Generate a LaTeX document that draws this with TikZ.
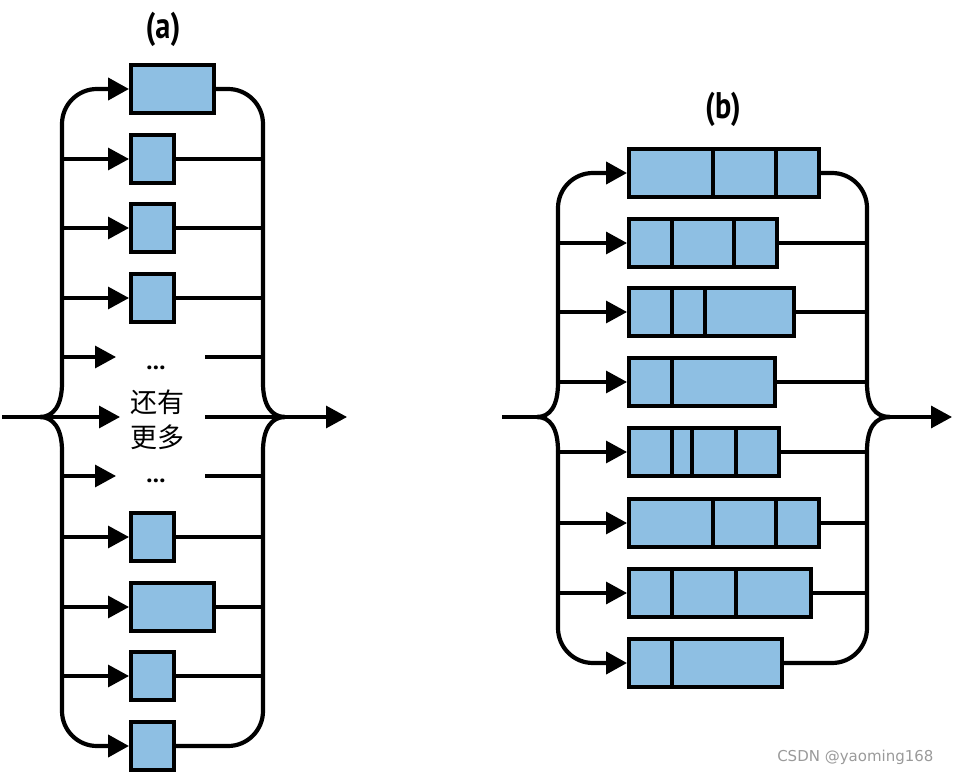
\documentclass[tikz,border=0pt]{standalone}
\usepackage{fontspec}
\newfontfamily\cjkfont{Noto Sans CJK SC}
\newfontfamily\labfont{PT Sans}
\newfontfamily\wmfont{DejaVu Sans}
\usetikzlibrary{arrows.meta}
\definecolor{boxblue}{HTML}{8EBFE3}
\definecolor{wmgray}{HTML}{9A9A9A}
\newcommand{\condlabel}[1]{\scalebox{0.82}[1]{#1}}
\begin{document}
\begin{tikzpicture}[x=1pt,y=-1pt,
  bus/.style={line width=4.2pt},
  branch/.style={line width=3.3pt},
  tip/.style={-{Triangle[length=21pt,width=22pt]}},
  blk/.style={draw, line width=3.5pt, fill=boxblue, inner sep=0pt, anchor=west, minimum height=48pt},
  divline/.style={line width=3.5pt},
  lab/.style={font=\labfont\bfseries\fontsize{37}{42}\selectfont},
  cjk/.style={font=\cjkfont\fontsize{27}{35}\selectfont, align=center},
  dots/.style={font=\labfont\bfseries\fontsize{25}{28}\selectfont, anchor=base}]
\useasboundingbox (0,0) rectangle (953,775);

% ---------- (a) ----------
\node[lab] (la) at (163,29) {\condlabel{(a)}};
\node[blk, minimum width=83pt] (a1) at (129,89) {};
\node[blk, minimum width=43pt] (a2) at (129,159) {};
\node[blk, minimum width=43pt] (a3) at (129,228) {};
\node[blk, minimum width=43pt] (a4) at (129,298) {};
\node[blk, minimum width=43pt] (a8) at (129,537) {};
\node[blk, minimum width=83pt] (a9) at (129,607) {};
\node[blk, minimum width=43pt] (a10) at (129,676) {};
\node[blk, minimum width=43pt] (a11) at (129,746) {};
\node[dots] (ad1) at (156,370) {...};
\node[cjk] (amore) at (157,420) {还有\\更多};
\node[dots] (ad2) at (156,482) {...};

\coordinate (aBL) at (40,417);
\coordinate (aBR) at (285,417);
\coordinate (aIn) at (2,417);
\coordinate (aMidTip) at (120,417);
\coordinate (aMidR) at (205,417);
\coordinate (aOut) at (347,417);
\foreach \n/\y in {2/159,3/228,4/298,5/357,7/476,8/537,9/607,10/676,11/746}{
  \coordinate (aL\n) at (62,\y);
  \coordinate (aR\n) at (263,\y);
}
\coordinate (aD5) at (116,357);
\coordinate (aE5) at (205,357);
\coordinate (aD7) at (116,476);
\coordinate (aE7) at (205,476);
\coordinate (aLU) at (62,383);
\coordinate (aLD) at (62,451);
\coordinate (aRU) at (263,383);
\coordinate (aRD) at (263,451);

% left bus
\draw[bus] (aBL) .. controls (53,417) and (62,406) .. (aLU);
\draw[bus] (aBL) .. controls (53,417) and (62,428) .. (aLD);
\draw[bus,tip,rounded corners=35pt] (aLU) -- (62,89) -- (a1);
\draw[bus,tip,rounded corners=35pt] (aLD) -- (62,746) -- (a11);
% right bus
\draw[bus] (aBR) .. controls (272,417) and (263,406) .. (aRU);
\draw[bus] (aBR) .. controls (272,417) and (263,428) .. (aRD);
\draw[bus,rounded corners=35pt] (a1) -- (263,89) -- (aRU);
\draw[bus,rounded corners=35pt] (a11) -- (263,746) -- (aRD);
% branches
\foreach \n in {2,3,4,8,9,10}{
  \draw[branch,tip] (aL\n) -- (a\n);
  \draw[branch] (a\n) -- (aR\n);
}
\draw[branch,tip] (aL5) -- (aD5);
\draw[branch] (aE5) -- (aR5);
\draw[branch,tip] (aL7) -- (aD7);
\draw[branch] (aE7) -- (aR7);
\draw[branch,tip] (aIn) -- (aMidTip);
\draw[branch,tip] (aMidR) -- (aOut);

% ---------- (b) ----------
\node[lab] (lb) at (723,109) {\condlabel{(b)}};
\node[blk, minimum width=190pt] (b1) at (627,173) {};
\node[blk, minimum width=148pt] (b2) at (627,243) {};
\node[blk, minimum width=165pt] (b3) at (627,312) {};
\node[blk, minimum width=146pt] (b4) at (627,382) {};
\node[blk, minimum width=150pt] (b5) at (627,452) {};
\node[blk, minimum width=190pt] (b6) at (627,523) {};
\node[blk, minimum width=182pt] (b7) at (627,593) {};
\node[blk, minimum width=153pt] (b8) at (627,663) {};
\foreach \b/\d in {b1/86,b1/149,b2/45,b2/107,b3/45,b3/78,b4/45,b5/45,b5/65,b5/109,b6/86,b6/149,b7/45,b7/109,b8/45}{
  \draw[divline] ([xshift=\d]\b.north west) -- ([xshift=\d]\b.south west);
}

\coordinate (bBL) at (537,417);
\coordinate (bBR) at (890,417);
\coordinate (bIn) at (502,417);
\coordinate (bOut) at (952,417);
\foreach \n/\y in {2/243,3/312,4/382,5/452,6/523,7/593}{
  \coordinate (bL\n) at (558,\y);
  \coordinate (bR\n) at (867,\y);
}
\coordinate (bLU) at (558,383);
\coordinate (bLD) at (558,451);
\coordinate (bRU) at (867,383);
\coordinate (bRD) at (867,451);

\draw[bus] (bBL) .. controls (550,417) and (558,406) .. (bLU);
\draw[bus] (bBL) .. controls (550,417) and (558,428) .. (bLD);
\draw[bus,tip,rounded corners=35pt] (bLU) -- (558,173) -- (b1);
\draw[bus,tip,rounded corners=35pt] (bLD) -- (558,663) -- (b8);
\draw[bus] (bBR) .. controls (875,417) and (867,406) .. (bRU);
\draw[bus] (bBR) .. controls (875,417) and (867,428) .. (bRD);
\draw[bus,rounded corners=35pt] (b1) -- (867,173) -- (bRU);
\draw[bus,rounded corners=35pt] (b8) -- (867,663) -- (bRD);
\foreach \n in {2,3,4,5,6,7}{
  \draw[branch,tip] (bL\n) -- (b\n);
  \draw[branch] (b\n) -- (bR\n);
}
\draw[branch] (bIn) -- (bBL);
\draw[branch,tip] (bBR) -- (bOut);

% watermark
\node[font=\wmfont\fontsize{15}{18}\selectfont, text=wmgray, anchor=base east] (wm) at (937,761) {CSDN @yaoming168};
\end{tikzpicture}
\end{document}
